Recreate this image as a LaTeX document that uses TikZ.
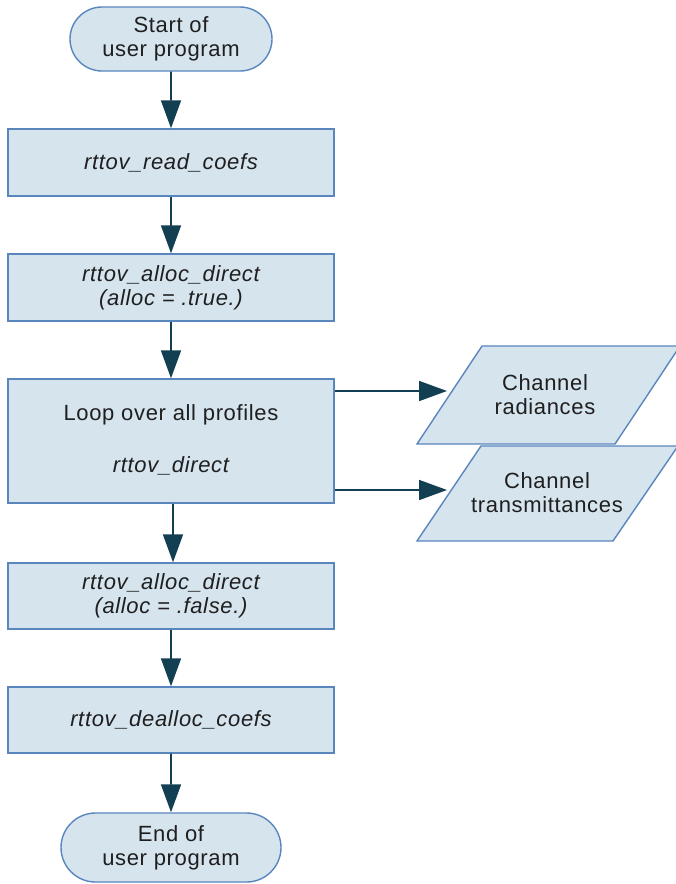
\documentclass[tikz,border=0pt]{standalone}
\usepackage{fontspec}
\setmainfont{Liberation Sans}[LetterSpace=3]
\usetikzlibrary{arrows.meta,shapes.misc}
\definecolor{boxfill}{HTML}{D6E4EE}
\definecolor{boxline}{HTML}{5A86BE}
\definecolor{arrcol}{HTML}{133F52}
\begin{document}
\begin{tikzpicture}[x=1pt,y=-1pt,
  every node/.style={font=\fontsize{22}{24}\selectfont, align=center, text=black!88},
  procbox/.style={draw=boxline, fill=boxfill, line width=1.4pt, rectangle, minimum width=326pt, inner sep=0pt},
  termbox/.style={draw=boxline, fill=boxfill, line width=1.4pt, rounded rectangle, inner sep=0pt},
  datashape/.style={draw=boxline, fill=boxfill, line width=1.4pt},
  arr/.style={draw=arrcol, line width=1.7pt, -{Triangle[length=28pt,width=20pt]}}]
\useasboundingbox (0,0) rectangle (676,884);
\fill[white] (0,0) rectangle (676,884);

\node[termbox, minimum width=202pt, minimum height=64pt] (start) at (171,39) {Start of\\user program};
\node[procbox, minimum height=67pt] (b1) at (171,162.5) {\itshape rttov\_read\_coefs};
\node[procbox, minimum height=67pt] (b2) at (171,287.5) {\itshape rttov\_alloc\_direct\\\itshape (alloc = .true.)};
\node[procbox, minimum height=124pt] (b3) at (171,441) {};
\node (b3a) at (171,415) {Loop over all profiles};
\node (b3b) at (171,466) {\itshape rttov\_direct};
\node[procbox, minimum height=66pt] (b4) at (171,596) {\itshape rttov\_alloc\_direct\\\itshape (alloc = .false.)};
\node[procbox, minimum height=66pt] (b5) at (171,720) {\itshape rttov\_dealloc\_coefs};
\node[termbox, minimum width=220pt, minimum height=69pt] (end) at (171,847.5) {End of\\user program};

\draw[datashape] (417,444) -- (482,346) -- (680,346) -- (615,444) -- cycle;
\draw[datashape] (417,541) -- (481,446) -- (678,446) -- (613,541) -- cycle;
\node (p1) at (545,395) {Channel\\radiances};
\node (p2) at (547,493) {Channel\\transmittances};

\coordinate (t1) at (447,391);
\coordinate (t2) at (447,490);

\draw[arr] (start) -- (b1);
\draw[arr] (b1) -- (b2);
\draw[arr] (b2) -- (b3);
\draw[arr] ([xshift=2pt]b3.south) -- ([xshift=2pt]b4.north);
\draw[arr] (b4) -- (b5);
\draw[arr] (b5) -- (end);
\draw[arr] (b3.east |- t1) -- (t1);
\draw[arr] (b3.east |- t2) -- (t2);
\end{tikzpicture}
\end{document}
